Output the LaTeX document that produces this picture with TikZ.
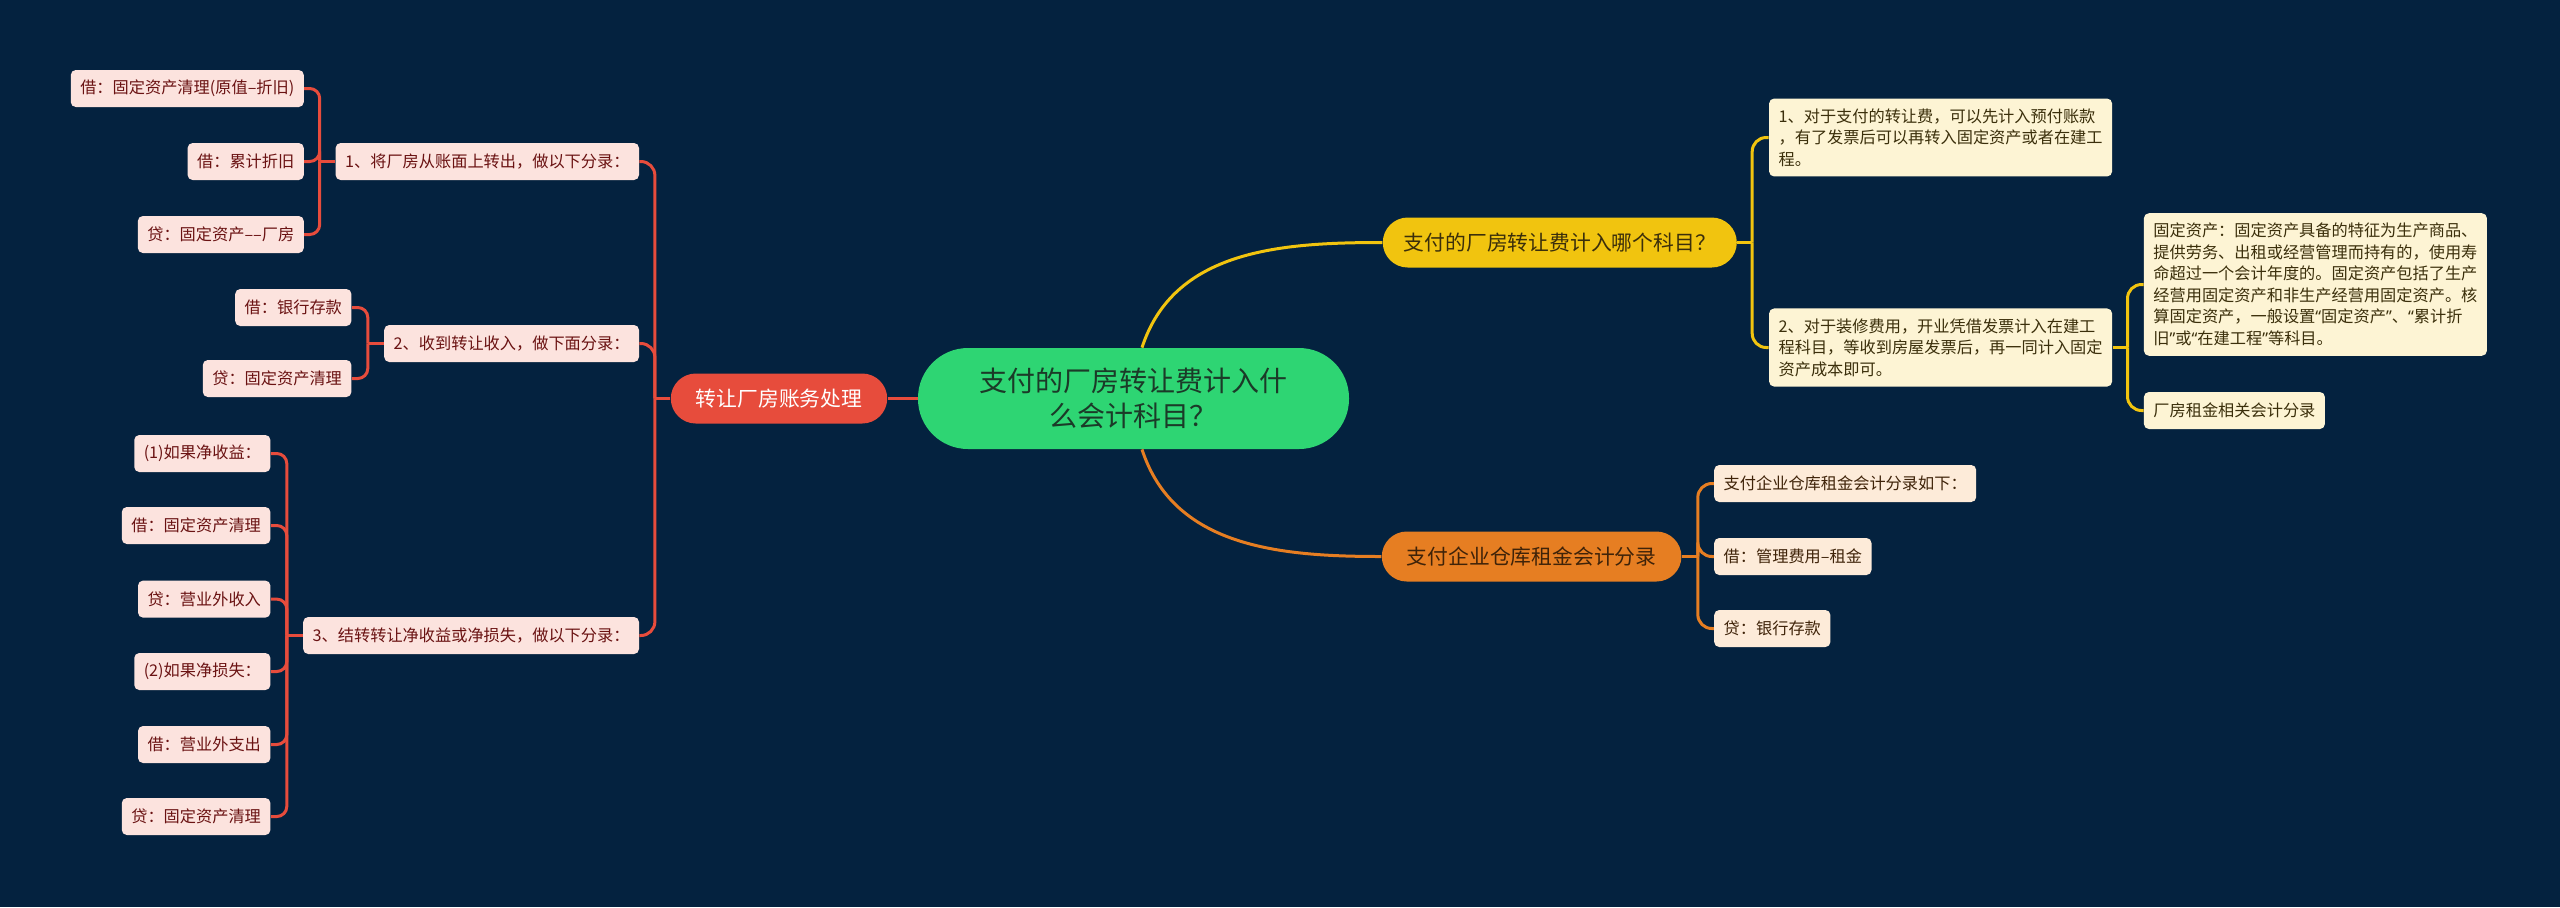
\documentclass[tikz,border=0pt]{standalone}
\usepackage{fontspec}
\setmainfont{Noto Sans CJK SC}
\newfontfamily\quotefont{Noto Sans}
\newcommand{\openq}{{\quotefont “}}
\newcommand{\closeq}{{\quotefont ”}}
\usepackage{tikz}
\usetikzlibrary{positioning}
\definecolor{bgnavy}{HTML}{04223F}
\definecolor{rootgreen}{HTML}{2ED573}
\definecolor{roottext}{HTML}{1B3A28}
\definecolor{redmain}{HTML}{E74C3C}
\definecolor{redleaf}{HTML}{FCE3DE}
\definecolor{redtext}{HTML}{6A1212}
\definecolor{yelmain}{HTML}{F1C40F}
\definecolor{yelleaf}{HTML}{FDF4D4}
\definecolor{yeltext}{HTML}{3B2F0B}
\definecolor{orgmain}{HTML}{E67E22}
\definecolor{orgleaf}{HTML}{FDEBD9}
\definecolor{orgtext}{HTML}{3F2309}

\begin{document}
\begin{tikzpicture}[
  x=0.5pt, y=-0.5pt,
  root/.style={rectangle, rounded corners=25pt, fill=rootgreen, text=roottext, font=\fontsize{14pt}{17.5pt}\selectfont, align=center, minimum width=215.5pt, minimum height=50.5pt},
  branch/.style={rectangle, rounded corners=12.5pt, minimum height=25pt, inner xsep=12.5pt, font=\fontsize{10.4pt}{12pt}\selectfont},
  leaf/.style={rectangle, rounded corners=2.5pt, minimum height=18.5pt, inner xsep=4.75pt, inner ysep=5pt, align=left, font=\fontsize{8.1pt}{10.75pt}\selectfont},
  redbox/.style={leaf, fill=redleaf, text=redtext},
  yelbox/.style={leaf, fill=yelleaf, text=yeltext},
  orgbox/.style={leaf, fill=orgleaf, text=orgtext},
  link/.style={line width=1.5pt}
]
  \fill[bgnavy] (0,0) rectangle (2560,907);

  \node[root] (topic) at (1133.5,398.5) {支付的厂房转让费计入什\\么会计科目？};

  % left branch
  \node[branch, fill=redmain, text=white, left=15pt of topic] (acct) {转让厂房账务处理};
  \node[redbox, left=15.5pt of acct, yshift=118.5pt] (step1) {1、将厂房从账面上转出，做以下分录：};
  \node[redbox, left=15.5pt of acct, yshift=27.5pt] (step2) {2、收到转让收入，做下面分录：};
  \node[redbox, left=15.5pt of acct, yshift=-118.5pt] (step3) {3、结转转让净收益或净损失，做以下分录：};

  \node[redbox, left=15.5pt of step1, yshift=36.5pt] (s1a) {借：固定资产清理(原值–折旧)};
  \node[redbox, left=15.5pt of step1] (s1b) {借：累计折旧};
  \node[redbox, left=15.5pt of step1, yshift=-36.5pt] (s1c) {贷：固定资产––厂房};

  \node[redbox, left=16pt of step2, yshift=18pt] (s2a) {借：银行存款};
  \node[redbox, left=16pt of step2, yshift=-17.5pt] (s2b) {贷：固定资产清理};

  \node[redbox, left=16pt of step3, yshift=91pt] (s3a) {(1)如果净收益：};
  \node[redbox, left=16pt of step3, yshift=55pt] (s3b) {借：固定资产清理};
  \node[redbox, left=16pt of step3, yshift=18.2pt] (s3c) {贷：营业外收入};
  \node[redbox, left=16pt of step3, yshift=-18pt] (s3d) {(2)如果净损失：};
  \node[redbox, left=16pt of step3, yshift=-54.5pt] (s3e) {借：营业外支出};
  \node[redbox, left=16pt of step3, yshift=-90.5pt] (s3f) {贷：固定资产清理};

  % right branches
  \node[branch, fill=yelmain, text=yeltext, inner xsep=10.5pt, right=16.5pt of topic, yshift=78pt] (fee) {支付的厂房转让费计入哪个科目？};
  \node[yelbox, right=15.75pt of fee, yshift=52.5pt] (fee1) {1、对于支付的转让费，可以先计入预付账款\\，有了发票后可以再转入固定资产或者在建工\\程。};
  \node[yelbox, right=15.75pt of fee, yshift=-52.5pt] (fee2) {2、对于装修费用，开业凭借发票计入在建工\\程科目，等收到房屋发票后，再一同计入固定\\资产成本即可。};
  \node[yelbox, right=15.5pt of fee2, yshift=31.5pt] (fixed) {固定资产：固定资产具备的特征为生产商品、\\提供劳务、出租或经营管理而持有的，使用寿\\命超过一个会计年度的。固定资产包括了生产\\经营用固定资产和非生产经营用固定资产。核\\算固定资产，一般设置\openq 固定资产\closeq 、\openq 累计折\\旧\closeq 或\openq 在建工程\closeq 等科目。};
  \node[yelbox, right=15.5pt of fee2, yshift=-31.5pt] (rent) {厂房租金相关会计分录};

  \node[branch, fill=orgmain, text=orgtext, right=16pt of topic, yshift=-79pt] (store) {支付企业仓库租金会计分录};
  \node[orgbox, right=16pt of store, yshift=36.5pt] (st1) {支付企业仓库租金会计分录如下：};
  \node[orgbox, right=16pt of store] (st2) {借：管理费用–租金};
  \node[orgbox, right=16pt of store, yshift=-36pt] (st3) {贷：银行存款};

  % connectors
  \draw[link, redmain] (topic) -- (acct);
  \draw[link, redmain] (acct.west) -- ++(-7.75pt,0) coordinate (acctfork);
  \foreach \n in {step1,step2,step3}
    \draw[link, redmain, rounded corners=7pt] (acctfork) |- (\n.east);
  \draw[link, redmain] (step1.west) -- ++(-7.75pt,0) coordinate (fork1);
  \foreach \n in {s1a,s1b,s1c}
    \draw[link, redmain, rounded corners=5pt] (fork1) |- (\n.east);
  \draw[link, redmain] (step2.west) -- ++(-8pt,0) coordinate (fork2);
  \foreach \n in {s2a,s2b}
    \draw[link, redmain, rounded corners=5pt] (fork2) |- (\n.east);
  \draw[link, redmain] (step3.west) -- ++(-8pt,0) coordinate (fork3);
  \foreach \n in {s3a,s3b,s3c,s3d,s3e,s3f}
    \draw[link, redmain, rounded corners=5pt] (fork3) |- (\n.east);

  \draw[link, yelmain] ([xshift=4.25pt]topic.north) to[out=72, in=180] (fee.west);
  \draw[link, yelmain] (fee.east) -- ++(7.5pt,0) coordinate (feefork);
  \foreach \n in {fee1,fee2}
    \draw[link, yelmain, rounded corners=7pt] (feefork) |- (\n.west);
  \draw[link, yelmain] (fee2.east) -- ++(7.5pt,0) coordinate (fork4);
  \foreach \n in {fixed,rent}
    \draw[link, yelmain, rounded corners=7pt] (fork4) |- (\n.west);

  \draw[link, orgmain] ([xshift=4.25pt]topic.south) to[out=-72, in=180] (store.west);
  \draw[link, orgmain] (store.east) -- ++(8pt,0) coordinate (storefork);
  \foreach \n in {st1,st2,st3}
    \draw[link, orgmain, rounded corners=7pt] (storefork) |- (\n.west);
\end{tikzpicture}
\end{document}
